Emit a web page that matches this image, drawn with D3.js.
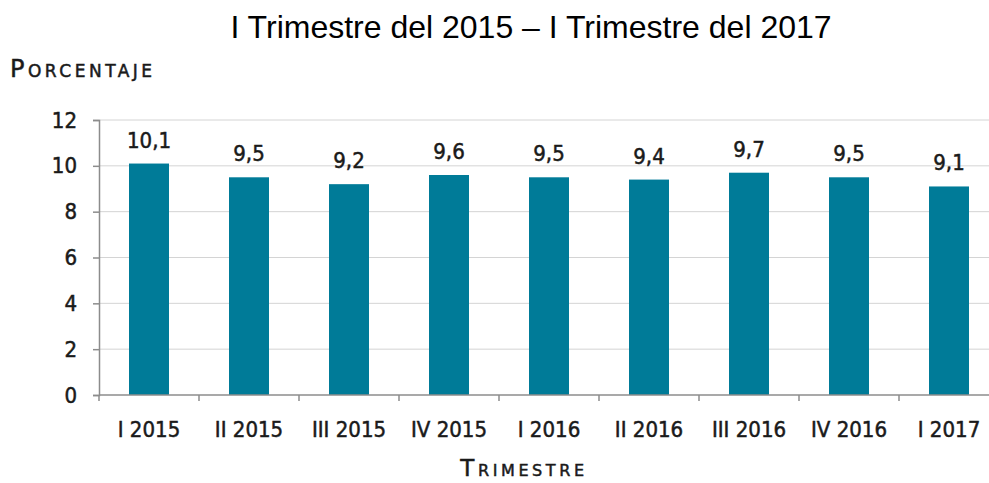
<!DOCTYPE html>
<html>
<head>
<meta charset="utf-8">
<script src="https://cdn.jsdelivr.net/npm/d3@7"></script>
<style>
  body { margin: 0; background: #fff; }
  svg { display: block; }
  .tick text { font-family: "DejaVu Sans Condensed", "DejaVu Sans", sans-serif; font-size: 22px; fill: #1a1a1a; stroke: #1a1a1a; stroke-width: 0.5px; }
</style>
</head>
<body>
<svg></svg>
<script>
var categories = ["I 2015", "II 2015", "III 2015", "IV 2015", "I 2016", "II 2016", "III 2016", "IV 2016", "I 2017"];
var values = [10.1, 9.5, 9.2, 9.6, 9.5, 9.4, 9.7, 9.5, 9.1];
var yTicks = [0, 2, 4, 6, 8, 10, 12];

var width = 989, height = 483;
var margin = {top: 120, left: 99, bottom: 88};
var barColor = "#007b98";
var labelFont = "'DejaVu Sans Condensed', 'DejaVu Sans', sans-serif";

var svg = d3.select("svg").attr("width", width).attr("height", height);

var x = d3.scaleBand().domain(categories).range([margin.left, margin.left + 900]).paddingInner(0.6).paddingOuter(0.3);
var y = d3.scaleLinear().domain([0, 12]).range([height - margin.bottom, margin.top]);

var fmt = function(v) { return String(v).replace(".", ","); };

function darkText(sel, size) {
  sel.style("font-family", labelFont)
    .style("font-size", size + "px")
    .style("fill", "#1a1a1a")
    .style("stroke", "#1a1a1a")
    .style("stroke-width", "0.5px");
}

// gridlines
svg.append("g")
  .selectAll("line")
  .data(yTicks.filter(function(d) { return d > 0; }))
  .enter().append("line")
    .attr("x1", margin.left).attr("x2", width)
    .attr("y1", function(d) { return y(d); }).attr("y2", function(d) { return y(d); })
    .attr("stroke", "#d4d4d4").attr("stroke-width", 1);

// bars
svg.append("g")
  .selectAll("rect")
  .data(values)
  .enter().append("rect")
    .attr("x", function(d, i) { return x(categories[i]); })
    .attr("width", x.bandwidth())
    .attr("y", function(d) { return y(d); })
    .attr("height", function(d) { return y(0) - y(d); })
    .attr("fill", barColor);

// value labels
svg.append("g")
  .selectAll("text")
  .data(values)
  .enter().append("text")
    .attr("x", function(d, i) { return x(categories[i]) + x.bandwidth() / 2; })
    .attr("y", function(d) { return y(d) - 16; })
    .attr("text-anchor", "middle")
    .call(darkText, 22)
    .text(fmt);

// y axis
var yAxis = svg.append("g")
  .attr("transform", "translate(" + margin.left + ",0)")
  .call(d3.axisLeft(y).tickValues(yTicks).tickSize(6).tickPadding(16).tickFormat(d3.format("d")));
yAxis.select(".domain").attr("stroke", "#8c8c8c").attr("stroke-width", 1.5);
yAxis.selectAll(".tick line").attr("stroke", "#8c8c8c").attr("stroke-width", 1.5);

// x axis baseline + boundary ticks
var xAxis = svg.append("g")
  .attr("transform", "translate(0," + y(0) + ")");
xAxis.append("line")
  .attr("x1", margin.left).attr("x2", width)
  .attr("stroke", "#8c8c8c").attr("stroke-width", 1.5);
xAxis.selectAll(".bound")
  .data(categories)
  .enter().append("line")
    .attr("class", "bound")
    .attr("x1", function(d) { return x(d) - x.step() * x.paddingInner() / 2; })
    .attr("x2", function(d) { return x(d) - x.step() * x.paddingInner() / 2; })
    .attr("y1", 0).attr("y2", 6)
    .attr("stroke", "#8c8c8c").attr("stroke-width", 1.5);
xAxis.selectAll(".lbl")
  .data(categories)
  .enter().append("text")
    .attr("class", "lbl")
    .attr("x", function(d) { return x(d) + x.bandwidth() / 2; })
    .attr("y", 42)
    .attr("text-anchor", "middle")
    .call(darkText, 22)
    .text(function(d) { return d; });

// title
svg.append("text")
  .attr("x", 531).attr("y", 38)
  .attr("text-anchor", "middle")
  .style("font-family", "'Liberation Sans', Arial, sans-serif")
  .style("font-size", "32px")
  .style("fill", "#000")
  .text("I Trimestre del 2015 \u2013 I Trimestre del 2017");

// axis titles
svg.append("text")
  .attr("x", 10).attr("y", 77)
  .call(darkText, 24)
  .style("font-family", "'DejaVu Sans', sans-serif")
  .style("font-variant", "small-caps")
  .style("letter-spacing", "3.5px")
  .text("Porcentaje");

svg.append("text")
  .attr("x", 524).attr("y", 476)
  .attr("text-anchor", "middle")
  .call(darkText, 23)
  .style("font-family", "'DejaVu Sans', sans-serif")
  .style("font-variant", "small-caps")
  .style("letter-spacing", "3.6px")
  .text("Trimestre");
</script>
</body>
</html>
